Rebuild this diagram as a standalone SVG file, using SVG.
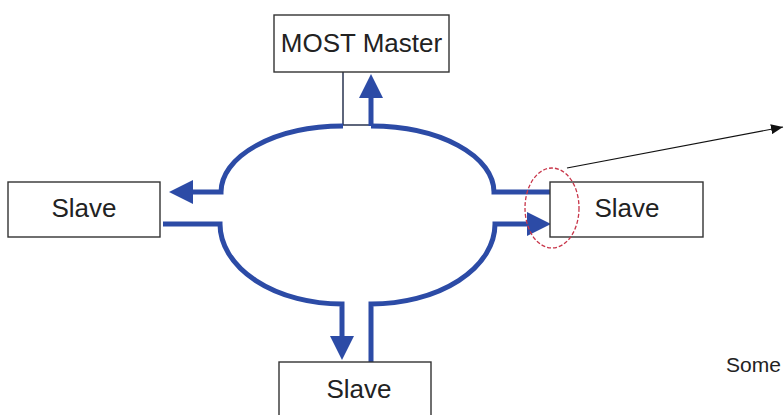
<svg xmlns="http://www.w3.org/2000/svg" width="784" height="415" viewBox="0 0 784 415">
<style>
.box{fill:#fff;stroke:#333;stroke-width:1.4}
.lbl{font-family:"Liberation Sans",Arial,sans-serif;font-size:26px;fill:#222;text-anchor:middle}
.ring{fill:none;stroke:#2c4ba6;stroke-width:5}
.thin{fill:none;stroke:#2a3550;stroke-width:1.5}
</style>
<defs>
<marker id="bh" viewBox="0 -12 24 24" refX="0" refY="0" markerWidth="24" markerHeight="24" markerUnits="userSpaceOnUse" orient="auto">
<path d="M0,-12 L24,0 L0,12 z" fill="#2c4ba6"/>
</marker>
<marker id="kh" viewBox="0 -5 12 10" refX="12" refY="0" markerWidth="12" markerHeight="10" markerUnits="userSpaceOnUse" orient="auto">
<path d="M0,-5 L12,0 L0,5 z" fill="#111"/>
</marker>
</defs>
<rect width="784" height="415" fill="#fff"/>
<g id="connectors">
<path class="thin" d="M343,72 V125 H371"/>
<path class="ring" d="M371,126 V98" marker-end="url(#bh)"/>
<path class="ring" d="M343,126 A122 66 0 0 0 221,192 H193" marker-end="url(#bh)"/>
<path class="ring" d="M371,126 A123 66 0 0 1 494,192 H550"/>
<path class="ring" d="M163,224 H220 A122 80 0 0 0 342,304 V336" marker-end="url(#bh)"/>
<path class="ring" d="M371,362 V304 A124 80 0 0 0 495,224 H527" marker-end="url(#bh)"/>
<line x1="567" y1="168" x2="783" y2="127" stroke="#111" stroke-width="1.2" marker-end="url(#kh)"/>
</g>
<g id="master">
<rect class="box" x="274" y="15" width="175" height="57"/>
<text class="lbl" x="361.5" y="52">MOST Master</text>
</g>
<g id="slave-left">
<rect class="box" x="8" y="182" width="152" height="55"/>
<text class="lbl" x="84" y="217">Slave</text>
</g>
<g id="slave-right">
<rect class="box" x="550" y="182" width="153" height="55"/>
<text class="lbl" x="627" y="217">Slave</text>
</g>
<g id="slave-bottom">
<rect class="box" x="279" y="362" width="152" height="60"/>
<text class="lbl" x="359" y="398">Slave</text>
</g>
<g id="highlight">
<ellipse cx="552" cy="208" rx="27" ry="40" fill="none" stroke="#c8364a" stroke-width="1.3" stroke-dasharray="4,2"/>
</g>
<text x="726" y="372" font-family="Liberation Sans,Arial,sans-serif" font-size="21" fill="#222">Some</text>
</svg>
